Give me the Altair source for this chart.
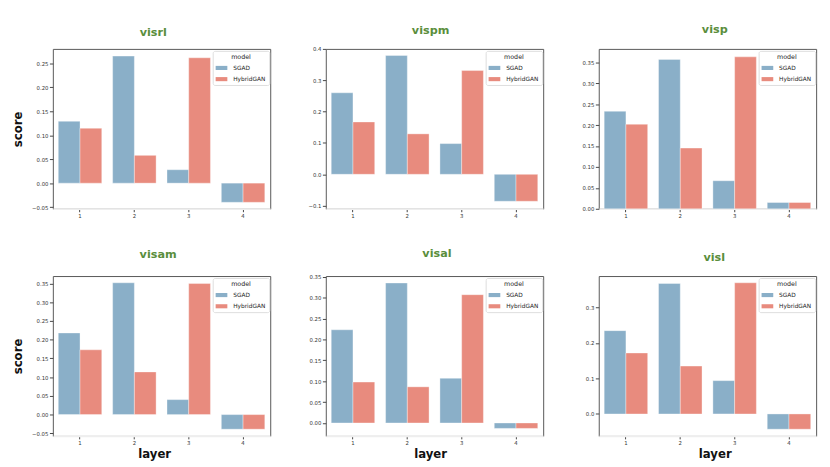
import altair as alt
import pandas as pd

layers = ["1", "2", "3", "4"]
models = ["SGAD", "HybridGAN"]
colors = ["#8aafc8", "#e88b7e"]

titles = ["visrl", "vispm", "visp", "visam", "visal", "visl"]
sgad = [
    [0.129, 0.265, 0.028, -0.040],
    [0.260, 0.379, 0.098, -0.086],
    [0.233, 0.357, 0.067, 0.015],
    [0.218, 0.352, 0.040, -0.039],
    [0.223, 0.335, 0.107, -0.013],
    [0.235, 0.368, 0.094, -0.043],
]
hybrid = [
    [0.1145, 0.058, 0.2615, -0.040],
    [0.167, 0.129, 0.331, -0.086],
    [0.202, 0.145, 0.363, 0.015],
    [0.173, 0.114, 0.350, -0.039],
    [0.098, 0.0865, 0.307, -0.013],
    [0.172, 0.135, 0.370, -0.043],
]
y_domains = [
    [-0.0535, 0.28],
    [-0.11, 0.40],
    [0.0, 0.382],
    [-0.057, 0.37],
    [-0.031, 0.3516],
    [-0.062, 0.389],
]
y_ticks = [
    [-0.05, 0.0, 0.05, 0.10, 0.15, 0.20, 0.25],
    [-0.1, 0.0, 0.1, 0.2, 0.3, 0.4],
    [0.0, 0.05, 0.10, 0.15, 0.20, 0.25, 0.30, 0.35],
    [-0.05, 0.0, 0.05, 0.10, 0.15, 0.20, 0.25, 0.30, 0.35],
    [0.0, 0.05, 0.10, 0.15, 0.20, 0.25, 0.30, 0.35],
    [0.0, 0.1, 0.2, 0.3],
]
y_formats = [".2f", ".1f", ".2f", ".2f", ".2f", ".1f"]
title_dx = [-8.5, -4, 7.5, -3.5, 2.5, 7]
title_dy = [-1.5, -2, -4.5, -7, -7, -4]
xtitle_x = [104, 107, 119, 104, 107, 119]

W, H = 223, 164
FONT = "DejaVu Sans"


def panel(i):
    rows = []
    for j, l in enumerate(layers):
        rows.append({"layer": l, "model": "SGAD", "score": sgad[i][j]})
        rows.append({"layer": l, "model": "HybridGAN", "score": hybrid[i][j]})
    df = pd.DataFrame(rows)
    first_col = i % 3 == 0
    bottom_row = i >= 3
    yaxis = alt.Axis(
        values=y_ticks[i], format=y_formats[i], grid=False, domain=False,
        tickSize=3.5, tickColor="#444", labelFontSize=5.5, labelColor="#333",
        labelPadding=1.5, labelFont=FONT,
        title="score" if first_col else None,
        titleFont=FONT, titleFontSize=12, titleFontWeight="bold", titleColor="#111",
        titleAngle=270, titleBaseline="alphabetic", titleAlign="center",
        titleX=-32, titleY=H / 2,
    )
    xaxis = alt.Axis(
        labelAngle=0, grid=False, domainColor="#eeeeee", domainWidth=1.5,
        tickSize=3, tickColor="#444", labelFontSize=5.5, labelColor="#333",
        labelPadding=1.5, labelFont=FONT,
        title="layer" if bottom_row else None,
        titleFont=FONT, titleFontSize=12, titleFontWeight="bold", titleColor="#111",
        titleBaseline="alphabetic", titleAlign="center",
        titleX=xtitle_x[i], titleY=22,
    )
    return (
        alt.Chart(df)
        .mark_bar(stroke="white", strokeOpacity=0.45, strokeWidth=0.8)
        .encode(
            x=alt.X("layer:N", sort=layers, axis=xaxis,
                    scale=alt.Scale(paddingInner=0.2, paddingOuter=0.1)),
            xOffset=alt.XOffset("model:N", sort=models),
            y=alt.Y("score:Q", axis=yaxis,
                    scale=alt.Scale(domain=y_domains[i], nice=False, zero=False)),
            color=alt.Color(
                "model:N", sort=models,
                scale=alt.Scale(domain=models, range=colors),
                legend=alt.Legend(
                    title="model", orient="top-right", offset=1.5,
                    padding=3, fillColor="white", strokeColor="#dddddd",
                    cornerRadius=2, titleFontSize=6.5, titleFontWeight="normal",
                    titleColor="#222", titleFont=FONT, titleAnchor="middle",
                    titlePadding=2, labelFontSize=6, labelColor="#222",
                    labelFont=FONT, labelOffset=6, rowPadding=2.5,
                    symbolType="M-1,-0.35H1V0.35H-1Z", symbolSize=144,
                    symbolStrokeWidth=0,
                ),
            ),
        )
        .properties(
            width=W, height=H,
            title=alt.TitleParams(
                titles[i], fontSize=11.5, font=FONT, fontWeight="bold",
                color="#5a8e3c", anchor="middle", dx=title_dx[i],
                offset=0, dy=title_dy[i], baseline="alphabetic", frame="group",
            ),
        )
    )


chart = (
    alt.concat(*[panel(i) for i in range(6)], columns=3,
               spacing=alt.RowColnumber(row=69, column=57), bounds="flush")
    .resolve_scale(color="independent", y="independent", x="independent")
    .resolve_legend(color="independent")
    .properties(padding={"left": 3, "top": 10, "right": 5, "bottom": 5})
    .configure_view(stroke="#555555", strokeWidth=1)
)

chart.save("out.html", embed_options={"renderer": "svg", "actions": False})
